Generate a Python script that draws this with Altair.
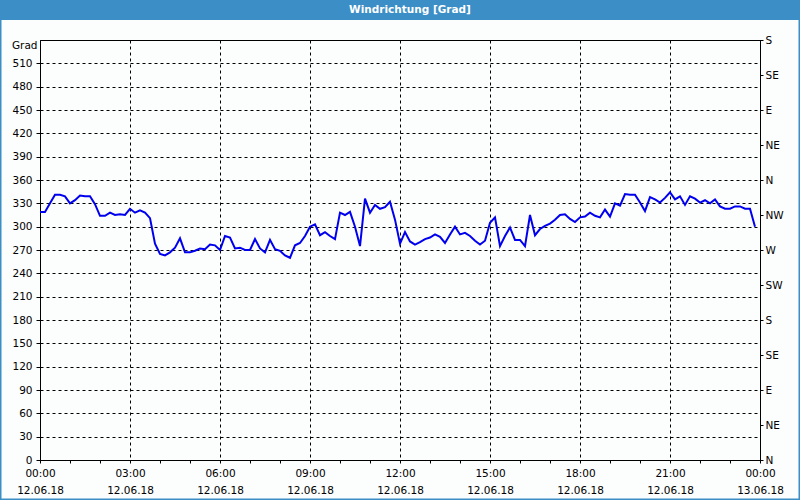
import altair as alt
import pandas as pd
import json

# Wind direction in degrees, one value every 10 minutes (12.06.18 00:00 .. 23:50)
degrees = [319, 319, 330, 341, 341, 339, 330, 334, 340, 339,
           339, 329, 314, 314, 318, 315, 316, 315, 323, 318,
           321, 318, 311, 278, 265, 263, 267, 273, 285, 267,
           267, 269, 272, 271, 277, 276, 270, 288, 286, 272,
           273, 270, 270, 284, 272, 267, 283, 271, 269, 263,
           260, 276, 279, 288, 300, 303, 289, 293, 288, 284,
           318, 315, 319, 300, 275, 336, 318, 328, 323, 325,
           332, 309, 278, 293, 281, 277, 280, 284, 286, 290,
           287, 279, 290, 300, 290, 292, 288, 282, 277, 282,
           305, 312, 275, 288, 299, 283, 283, 275, 315, 289,
           297, 301, 304, 309, 315, 316, 310, 306, 312, 313,
           318, 314, 312, 322, 313, 330, 327, 342, 341, 341,
           331, 320, 338, 335, 331, 337, 344, 335, 339, 328,
           339, 336, 331, 334, 330, 335, 326, 323, 323, 326,
           326, 323, 323, 300]

times = pd.date_range("2018-06-12 00:00", periods=len(degrees), freq="10min")
df = pd.DataFrame({"time": times.strftime("%Y-%m-%dT%H:%M:%S"), "deg": degrees})

left_ticks = [0, 30, 60, 90, 120, 150, 180, 210, 240, 270, 300, 330, 360, 390, 420, 450, 480, 510]
compass_values = [0, 45, 90, 135, 180, 225, 270, 315, 360, 405, 450, 495, 540]
compass_labels = ["N", "NE", "E", "SE", "S", "SW", "W", "NW", "N", "NE", "E", "SE", "S"]
hour_ticks = [alt.DateTime(year=2018, month=6, date=12, hours=h) for h in range(24)] + \
             [alt.DateTime(year=2018, month=6, date=13, hours=0)]

title_text = "Windrichtung [Grad]"
y_title = "Grad"

FONT = "DejaVu Sans"
BLUE_BAR = "#3c8ec6"
LINE_COLOR = "#0000ee"

x_enc = alt.X(
    "time:T",
    scale=alt.Scale(domain=[alt.DateTime(year=2018, month=6, date=12, hours=0),
                            alt.DateTime(year=2018, month=6, date=13, hours=0)]),
    axis=alt.Axis(
        values=hour_ticks,
        title=None,
        labelExpr="hours(datum.value) % 3 == 0 ? [timeFormat(datum.value, '%H:%M'), timeFormat(datum.value, '%d.%m.%y')] : ''",
        labelFlush=False,
        labelOverlap=False,
        labelPadding=5,
        labelLineHeight=17,
        labelBaseline="top",
        tickSize=3,
        tickColor="black",
        domainColor="black",
        grid=True,
        gridColor="black",
        gridDash=[3, 3],
        gridOpacity={"condition": {"test": "hours(datum.value) % 3 == 0", "value": 1}, "value": 0},
    ),
)

left = alt.Chart(df).mark_line(color=LINE_COLOR, strokeWidth=2).encode(
    x=x_enc,
    y=alt.Y(
        "deg:Q",
        scale=alt.Scale(domain=[0, 540], nice=False, zero=False),
        axis=alt.Axis(
            values=left_ticks,
            title=y_title,
            titleAngle=0,
            titleAlign="right",
            titleBaseline="middle",
            titleX=-3,
            titleY=5,
            titleFontWeight="normal",
            titleFont=FONT,
            titleFontSize=10.5,
            titleColor="black",
            tickSize=4,
            tickColor="black",
            domainColor="black",
            labelPadding=4,
            grid=True,
            gridColor="black",
            gridDash=[3, 3],
        ),
    ),
)

right = alt.Chart(df).mark_line(opacity=0).encode(
    x=x_enc,
    y=alt.Y(
        "deg:Q",
        scale=alt.Scale(domain=[0, 540], nice=False, zero=False),
        axis=alt.Axis(
            orient="right",
            values=compass_values,
            title=None,
            labelExpr=json.dumps(compass_labels) + "[round(datum.value / 45)]",
            tickSize=3,
            tickColor="black",
            domainColor="black",
            labelPadding=2,
            grid=False,
        ),
    ),
)

deco = pd.DataFrame({"label": [title_text]})

title_bar = alt.Chart(deco).mark_rect(color=BLUE_BAR).encode(
    x=alt.value(-40), x2=alt.value(760), y=alt.value(-40), y2=alt.value(-20)
)
title_txt = alt.Chart(deco).mark_text(
    color="white", font=FONT, fontSize=10.5, fontWeight="bold", align="center", baseline="middle"
).encode(text="label:N", x=alt.value(370), y=alt.value(-30))
border = alt.Chart(deco).mark_rect(filled=False, stroke=BLUE_BAR, strokeWidth=3).encode(
    x=alt.value(-40), x2=alt.value(760), y=alt.value(-40), y2=alt.value(460)
)

chart = alt.layer(left, right, title_bar, title_txt, border).resolve_scale(
    y="independent"
).properties(
    width=720,
    height=420,
    padding={"left": 40, "top": 40, "right": 40, "bottom": 40},
    autosize=alt.AutoSizeParams(type="none"),
    background="#fcfdfd",
).configure_view(
    stroke="black", strokeWidth=1
).configure_axis(
    labelFont=FONT, labelFontSize=10.5, labelColor="black"
)

chart.save("out.html", embed_options={"renderer": "svg", "actions": False})
